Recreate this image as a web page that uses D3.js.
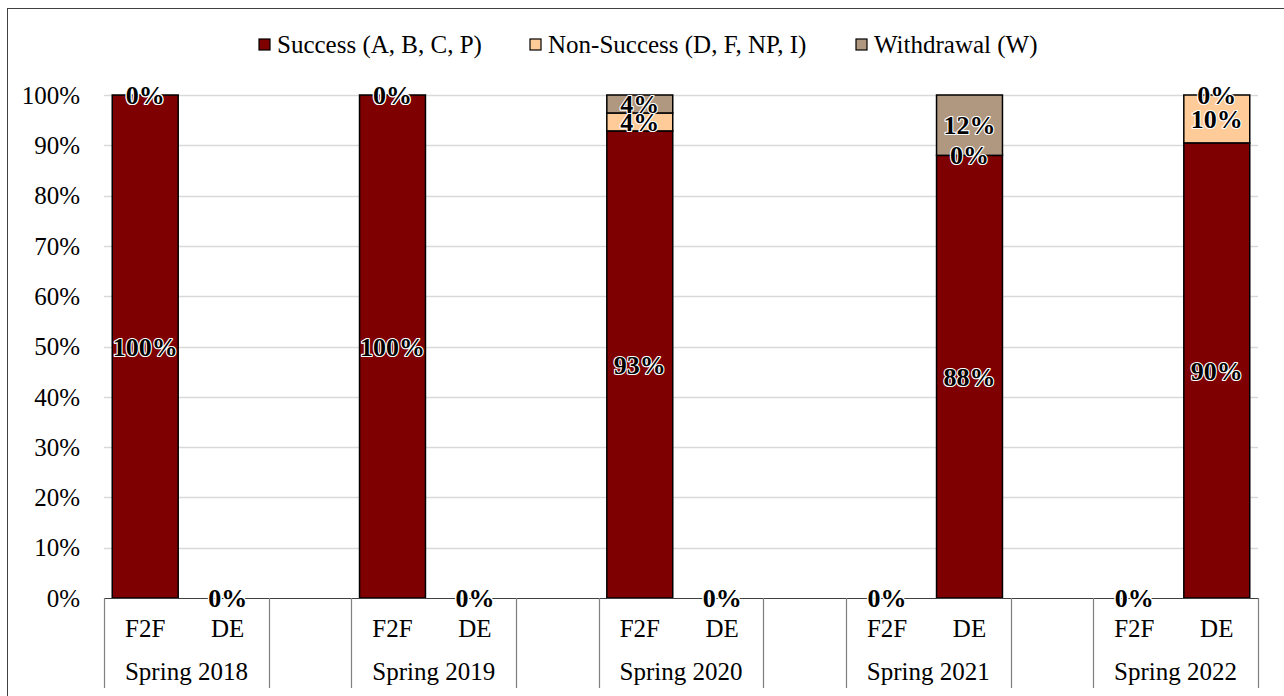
<!DOCTYPE html>
<html><head><meta charset="utf-8">
<script src="https://cdn.jsdelivr.net/npm/d3@7"></script>
<style>
html,body{margin:0;padding:0;background:#fff;}
svg{display:block;}
svg text{font-family:"Liberation Serif","Times New Roman",serif;}
</style></head>
<body>
<svg id="chart" width="1284" height="696"></svg>
<script>
// ---- data ----
const terms = ["Spring 2018","Spring 2019","Spring 2020","Spring 2021","Spring 2022"];
const modes = ["F2F","DE"];
const seriesNames = ["Success (A, B, C, P)","Non-Success (D, F, NP, I)","Withdrawal (W)"];
const seriesColors = ["#7f0000","#ffcc99","#b09880"];
// values per term, per mode (F2F, DE), in percent
const success     = [[100,0],[100,0],[92.86,0],[0,88],[0,90.48]];
const nonSuccess  = [[0,0],[0,0],[3.57,0],[0,0],[0,9.52]];
const withdrawal  = [[0,0],[0,0],[3.57,0],[0,12],[0,0]];
const yTicks = [0,10,20,30,40,50,60,70,80,90,100];

(function(){
const FONT = "'Liberation Serif', 'Times New Roman', serif";
const FS = 25;
// ---- layout ----
const svg = d3.select("#chart");
const pLeft = 104, pRight = 1258, pTop = 95, pBottom = 598;

// slots: F2F, DE, gap for each term (no trailing gap)
const slots = [];
terms.forEach((t,i)=>{
  modes.forEach(m=>slots.push(t+"|"+m));
  if(i<terms.length-1) slots.push("gap"+i);
});
const x = d3.scaleBand().domain(slots).range([pLeft,pRight]).paddingInner(0.2).paddingOuter(0.1);
const step = x.step();
const y = d3.scaleLinear().domain([0,100]).range([pBottom,pTop]);

// outer border
svg.append("rect").attr("x",7.5).attr("y",8.5).attr("width",1290).attr("height",700)
  .attr("fill","none").attr("stroke","#404040").attr("stroke-width",1);

// gridlines
svg.append("g").selectAll("line").data(yTicks.filter(d=>d>0)).join("line")
  .attr("x1",pLeft).attr("x2",pRight)
  .attr("y1",d=>Math.round(y(d))+0.5).attr("y2",d=>Math.round(y(d))+0.5)
  .attr("stroke","#d9d9d9").attr("stroke-width",1.5);

// y axis labels
svg.append("g").selectAll("text").data(yTicks).join("text")
  .attr("font-family",FONT)
  .attr("x",80).attr("y",d=>y(d)).attr("dy","0.35em")
  .attr("text-anchor","end").attr("font-size",FS).attr("fill","#000")
  .text(d=>d+"%");

// stacked data
const rows = [];
terms.forEach((t,i)=>modes.forEach((m,j)=>{
  rows.push({key:t+"|"+m, s0:success[i][j], s1:nonSuccess[i][j], s2:withdrawal[i][j]});
}));
const stack = d3.stack().keys(["s0","s1","s2"])(rows);

const gBars = svg.append("g");
stack.forEach((layer,li)=>{
  gBars.append("g").selectAll("rect").data(layer.filter(d=>d[1]-d[0]>0)).join("rect")
    .attr("x",d=>x(d.data.key)).attr("width",x.bandwidth())
    .attr("y",d=>y(d[1])).attr("height",d=>y(d[0])-y(d[1]))
    .attr("fill",seriesColors[li]).attr("stroke","#000").attr("stroke-width",1.5);
});

// x baseline
svg.append("line").attr("x1",pLeft).attr("x2",pRight).attr("y1",pBottom+0.5).attr("y2",pBottom+0.5)
  .attr("stroke","#404040").attr("stroke-width",1.2);

// group separators
const seps = [];
terms.forEach((t,i)=>{
  const x0 = x(t+"|F2F") - step*0.1;
  const x1 = x(t+"|DE") + x.bandwidth() + step*0.1;
  seps.push(x0,x1);
});
svg.append("g").selectAll("line").data(seps).join("line")
  .attr("x1",d=>Math.round(d)+0.5).attr("x2",d=>Math.round(d)+0.5)
  .attr("y1",pBottom).attr("y2",688)
  .attr("stroke","#7f7f7f").attr("stroke-width",1.2);

// category labels
svg.append("g").selectAll("text").data(rows).join("text")
  .attr("font-family",FONT)
  .attr("x",d=>x(d.key)+x.bandwidth()/2).attr("y",637)
  .attr("text-anchor","middle").attr("font-size",FS)
  .text(d=>d.key.split("|")[1]);
svg.append("g").selectAll("text").data(terms).join("text")
  .attr("font-family",FONT)
  .attr("x",t=>(x(t+"|F2F")+x(t+"|DE")+x.bandwidth())/2).attr("y",680)
  .attr("text-anchor","middle").attr("font-size",FS)
  .text(t=>t);

// data labels (drawn bottom layer first)
const gLab = svg.append("g");
stack.forEach((layer,li)=>{
  gLab.append("g").selectAll("text").data(layer).join("text")
    .attr("font-family",FONT)
    .attr("x",d=>x(d.data.key)+x.bandwidth()/2)
    .attr("y",d=>y((d[0]+d[1])/2)).attr("dy","0.35em")
    .attr("text-anchor","middle").attr("font-size",26).attr("font-weight","bold")
    .attr("fill","#000").attr("stroke","#fff").attr("stroke-width",2.2)
    .attr("paint-order","stroke").attr("stroke-linejoin","round")
    .text(d=>Math.round(d[1]-d[0])+"%");
});

// legend
const legX = [259,530,856];
const leg = svg.append("g");
seriesNames.forEach((n,i)=>{
  leg.append("rect").attr("x",legX[i]).attr("y",39).attr("width",11).attr("height",11)
    .attr("fill",seriesColors[i]).attr("stroke","#000").attr("stroke-width",1.2);
  leg.append("text").attr("font-family",FONT)
    .attr("x",legX[i]+18).attr("y",53).attr("font-size",FS).text(n);
});
})();
</script>
</body></html>
